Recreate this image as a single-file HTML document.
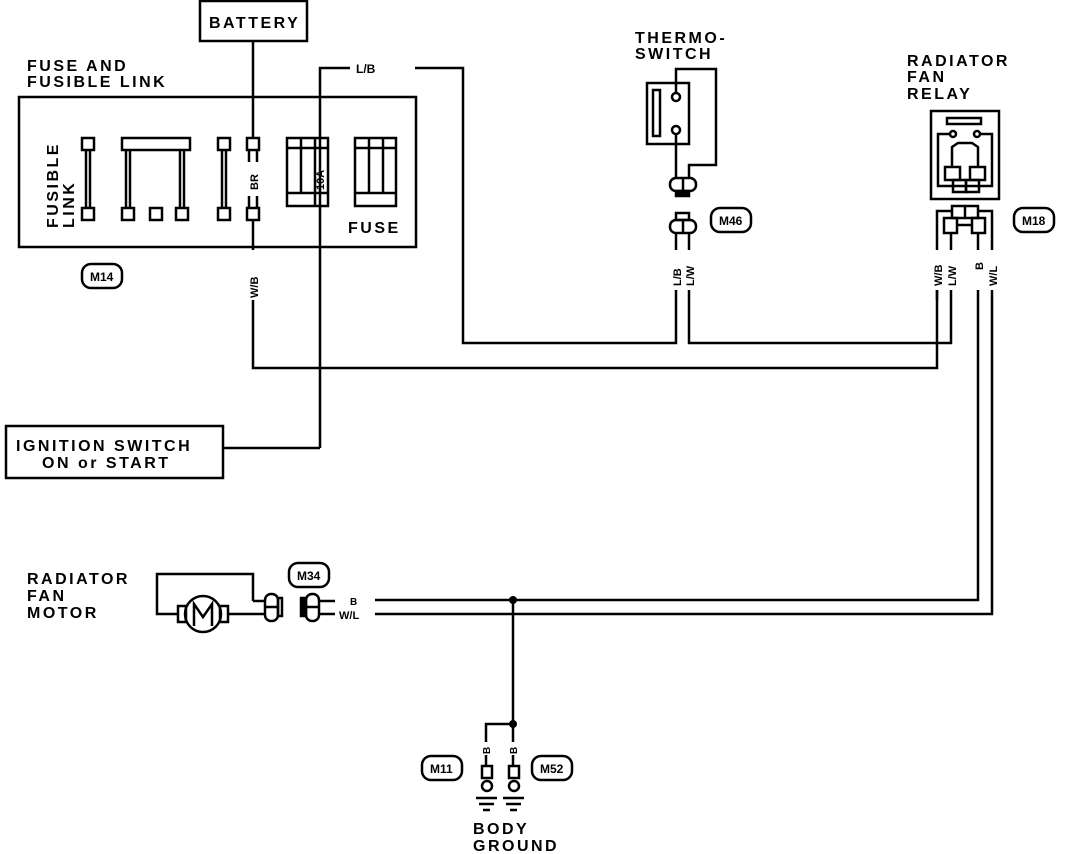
<!DOCTYPE html>
<html><head><style>
html,body{margin:0;padding:0;background:#fff;}
svg{display:block;}
text{font-family:"Liberation Sans","DejaVu Sans",sans-serif;font-weight:bold;fill:#000;}
.big{font-size:16px;letter-spacing:2.5px;}
</style></head><body>
<svg width="1072" height="854" viewBox="0 0 1072 854" xmlns="http://www.w3.org/2000/svg">
<g fill="none" stroke="#000" stroke-width="2.5">
<rect x="200" y="1" width="107" height="40"/>
<rect x="19" y="97" width="397" height="150"/>
<rect x="82" y="138" width="12" height="12"/><rect x="82" y="208" width="12" height="12"/>
<line x1="86" y1="150" x2="86" y2="208"/><line x1="90" y1="150" x2="90" y2="208"/>
<rect x="122" y="138" width="68" height="12"/>
<line x1="126" y1="150" x2="126" y2="208"/><line x1="130" y1="150" x2="130" y2="208"/>
<line x1="180" y1="150" x2="180" y2="208"/><line x1="184" y1="150" x2="184" y2="208"/>
<rect x="122" y="208" width="12" height="12"/><rect x="150" y="208" width="12" height="12"/><rect x="176" y="208" width="12" height="12"/>
<rect x="218" y="138" width="12" height="12"/><rect x="218" y="208" width="12" height="12"/>
<line x1="222" y1="150" x2="222" y2="208"/><line x1="226" y1="150" x2="226" y2="208"/>
<rect x="247" y="138" width="12" height="12"/><rect x="247" y="208" width="12" height="12"/>
<line x1="249" y1="150" x2="249" y2="162"/><line x1="257" y1="150" x2="257" y2="162"/>
<line x1="249" y1="196" x2="249" y2="208"/><line x1="257" y1="196" x2="257" y2="208"/>
<rect x="287" y="138" width="41" height="68"/>
<line x1="287" y1="148" x2="328" y2="148"/><line x1="287" y1="193" x2="328" y2="193"/>
<line x1="301" y1="138" x2="301" y2="193"/><line x1="315" y1="138" x2="315" y2="206"/>
<rect x="355" y="138" width="41" height="68"/>
<line x1="355" y1="148" x2="396" y2="148"/><line x1="355" y1="193" x2="396" y2="193"/>
<line x1="369" y1="138" x2="369" y2="193"/><line x1="383" y1="138" x2="383" y2="193"/>
<line x1="253" y1="41" x2="253" y2="138"/>
<polyline points="253,220 253,250"/><polyline points="253,300 253,368 937,368 937,290"/>
<polyline points="320,448 320,68 350,68"/>
<polyline points="415,68 463,68 463,343 676,343 676,290"/>
<polyline points="689,290 689,343 951,343 951,290"/>
<line x1="223" y1="448" x2="320" y2="448"/>
<rect x="6" y="426" width="217" height="52"/>
<rect x="647" y="83" width="42" height="61"/>
<rect x="653" y="90" width="7" height="46"/>
<circle cx="676" cy="97" r="4"/><circle cx="676" cy="130" r="4"/>
<polyline points="676,93 676,69 716,69 716,165 689,165 689,178"/>
<line x1="676" y1="134" x2="676" y2="178"/>
<rect x="670" y="178" width="26" height="13" rx="6"/>
<line x1="683" y1="178" x2="683" y2="191"/>
<rect x="676" y="191" width="13" height="5" fill="#000"/>
<rect x="670" y="220" width="26" height="13" rx="6"/>
<line x1="683" y1="220" x2="683" y2="233"/>
<rect x="676" y="213" width="13" height="7"/>
<line x1="676" y1="233" x2="676" y2="250"/><line x1="689" y1="233" x2="689" y2="250"/>
<rect x="711" y="208" width="40" height="24" rx="9"/>
<rect x="931" y="111" width="68" height="88"/>
<rect x="947" y="118" width="34" height="6"/>
<circle cx="953" cy="134" r="3"/><circle cx="977" cy="134" r="3"/>
<polyline points="950,134 938,134 938,186 992,186 992,134 980,134"/>
<path d="M952,167 L952,147 L958,143 L972,143 L978,147 L978,167"/>
<rect x="945" y="167" width="15" height="13"/><rect x="970" y="167" width="15" height="13"/>
<rect x="953" y="180" width="13" height="12"/><rect x="966" y="180" width="13" height="12"/>
<rect x="952" y="206" width="26" height="12"/><line x1="965" y1="206" x2="965" y2="218"/>
<rect x="944" y="218" width="13" height="15"/><rect x="972" y="218" width="13" height="15"/>
<line x1="957" y1="225" x2="972" y2="225"/>
<polyline points="952,211 937,211 937,250"/><line x1="951" y1="233" x2="951" y2="250"/>
<line x1="978" y1="233" x2="978" y2="250"/><polyline points="978,211 992,211 992,250"/>
<line x1="937" y1="290" x2="937" y2="300"/>
<polyline points="978,290 978,600 375,600"/>
<polyline points="992,290 992,614 375,614"/>
<rect x="1014" y="208" width="40" height="24" rx="9"/>
<rect x="82" y="264" width="40" height="24" rx="9"/>
<polyline points="253,601 253,574 157,574 157,614 178,614"/>
<rect x="178" y="606" width="8" height="16"/>
<circle cx="203" cy="614" r="18"/>
<path d="M194,626 L194,604 L203,617 L212,604 L212,626"/>
<rect x="220" y="606" width="8" height="16"/>
<line x1="228" y1="614" x2="265" y2="614"/>
<line x1="253" y1="601" x2="265" y2="601"/>
<rect x="265" y="594" width="13" height="27" rx="6"/><line x1="265" y1="607" x2="278" y2="607"/>
<rect x="278" y="598" width="4" height="18"/>
<rect x="306" y="594" width="13" height="27" rx="6"/><line x1="306" y1="607" x2="319" y2="607"/>
<rect x="301" y="598" width="5" height="18" fill="#000"/>
<line x1="319" y1="601" x2="335" y2="601"/><line x1="319" y1="614" x2="335" y2="614"/>
<rect x="289" y="563" width="40" height="24" rx="9"/>
<polyline points="513,600 513,742"/>
<polyline points="513,724 486,724 486,742"/>
<rect x="482" y="766" width="10" height="12"/><rect x="509" y="766" width="10" height="12"/>
<line x1="486" y1="755" x2="486" y2="766"/><line x1="513" y1="755" x2="513" y2="766"/>
<circle cx="487" cy="786" r="5"/><circle cx="514" cy="786" r="5"/>
<line x1="476" y1="798" x2="497" y2="798"/><line x1="503" y1="798" x2="524" y2="798"/>
<line x1="479" y1="804" x2="494" y2="804"/><line x1="506" y1="804" x2="521" y2="804"/>
<line x1="483" y1="810" x2="490" y2="810"/><line x1="510" y1="810" x2="517" y2="810"/>
<rect x="422" y="756" width="40" height="24" rx="9"/>
<rect x="532" y="756" width="40" height="24" rx="9"/>
</g>
<circle cx="513" cy="600" r="4"/><circle cx="513" cy="724" r="4"/>
<g class="big">
<text x="209" y="28">BATTERY</text>
<text x="27" y="71">FUSE AND</text>
<text x="27" y="87">FUSIBLE LINK</text>
<text x="348" y="233">FUSE</text>
<text x="16" y="451">IGNITION SWITCH</text>
<text x="42" y="468">ON or START</text>
<text x="635" y="43">THERMO-</text>
<text x="635" y="59">SWITCH</text>
<text x="907" y="66">RADIATOR</text>
<text x="907" y="82">FAN</text>
<text x="907" y="99">RELAY</text>
<text x="27" y="584">RADIATOR</text>
<text x="27" y="601">FAN</text>
<text x="27" y="618">MOTOR</text>
<text x="473" y="834">BODY</text>
<text x="473" y="851">GROUND</text>
<text transform="translate(58,228) rotate(-90)">FUSIBLE</text>
<text transform="translate(74,228) rotate(-90)">LINK</text>
</g>
<g font-size="12">
<text x="356" y="73">L/B</text>
<text x="90" y="281">M14</text>
<text x="719" y="225">M46</text>
<text x="1022" y="225">M18</text>
<text x="297" y="580">M34</text>
<text x="430" y="773">M11</text>
<text x="540" y="773">M52</text>
<text x="350" y="605" font-size="10">B</text>
<text x="339" y="619" font-size="11">W/L</text>
<text transform="translate(258,190) rotate(-90)" font-size="11">BR</text>
<text transform="translate(324,190) rotate(-90)" font-size="11">10A</text>
<text transform="translate(258,298) rotate(-90)" font-size="11">W/B</text>
<text transform="translate(681,286) rotate(-90)" font-size="11">L/B</text>
<text transform="translate(694,286) rotate(-90)" font-size="11">L/W</text>
<text transform="translate(942,286) rotate(-90)" font-size="11">W/B</text>
<text transform="translate(956,286) rotate(-90)" font-size="11">L/W</text>
<text transform="translate(983,270) rotate(-90)" font-size="11">B</text>
<text transform="translate(997,286) rotate(-90)" font-size="11">W/L</text>
<text transform="translate(490,754) rotate(-90)" font-size="10">B</text>
<text transform="translate(517,754) rotate(-90)" font-size="10">B</text>
</g>
</svg>
</body></html>
